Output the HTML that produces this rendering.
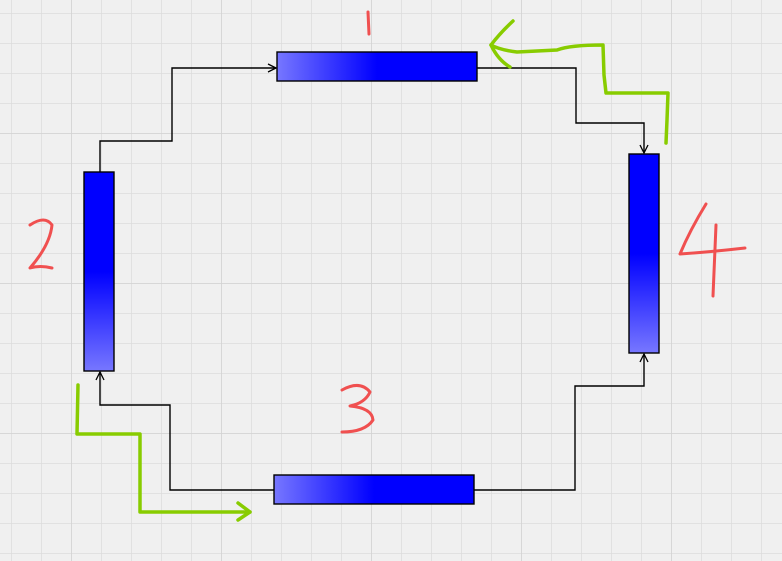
<!DOCTYPE html>
<html><head><meta charset="utf-8"><style>
html,body{margin:0;padding:0;background:#f0f0f0;}
svg{display:block;}
</style></head><body>
<svg width="782" height="561" xmlns="http://www.w3.org/2000/svg">
<defs>
<pattern id="g" x="11" y="13" width="30" height="30" patternUnits="userSpaceOnUse">
<path d="M0 0H30M0 0V30" stroke="#dcdcdc" stroke-width="1.5" fill="none"/>
</pattern>
<pattern id="G" x="71" y="133" width="150" height="150" patternUnits="userSpaceOnUse">
<path d="M0 0H150M0 0V150" stroke="#d2d2d2" stroke-width="1.5" fill="none"/>
</pattern>
<linearGradient id="h" x1="0" x2="1" y1="0" y2="0"><stop offset="0" stop-color="#7777ff"/><stop offset="0.5" stop-color="#0000ff"/><stop offset="1" stop-color="#0000ff"/></linearGradient>
<linearGradient id="v" x1="0" x2="0" y1="0" y2="1"><stop offset="0" stop-color="#0000ff"/><stop offset="0.5" stop-color="#0000ff"/><stop offset="1" stop-color="#7777ff"/></linearGradient>
<marker id="a" markerWidth="10" markerHeight="10" refX="9" refY="5" orient="auto" markerUnits="userSpaceOnUse"><path d="M1 1L9 5L1 9" fill="none" stroke="#000" stroke-width="1.3"/></marker>
</defs>
<rect width="782" height="561" fill="#f0f0f0"/>
<rect width="782" height="561" fill="url(#g)"/>
<rect width="782" height="561" fill="url(#G)"/>
<g fill="none" stroke="#000" stroke-width="1.4">
<path d="M100 172V141H172V68H276" marker-end="url(#a)"/>
<path d="M477 68H576V123H644V153" marker-end="url(#a)"/>
<path d="M474 490H575V386H644V354" marker-end="url(#a)"/>
<path d="M274 490H170V405H100V372" marker-end="url(#a)"/>
</g>
<g stroke="#000" stroke-width="1.4">
<rect x="277" y="52" width="200" height="29" fill="url(#h)"/>
<rect x="84" y="172" width="30" height="199" fill="url(#v)"/>
<rect x="629" y="154" width="30" height="199" fill="url(#v)"/>
<rect x="274" y="475" width="200" height="29" fill="url(#h)"/>
</g>
<g fill="none" stroke="#88cc00" stroke-width="3.5" stroke-linecap="round" stroke-linejoin="round">
<path d="M513 21Q500 33 491 45Q500 50 517 52L557 50Q570 45 603 45L604 75L606 93L668 93L667 120L666 143"/>
<path d="M491 45Q498 60 510 67"/>
<path d="M78 385L77 434L140 434L140 473L140 512L250 512"/>
<path d="M238 503L250 512L238 520"/>
</g>
<g fill="none" stroke="#f05050" stroke-width="3" stroke-linecap="round" stroke-linejoin="round">
<path d="M368 12L369 34"/>
<path d="M30 225Q45 215 52 225Q50 245 30 268Q40 265 52 268"/>
<path d="M342 390Q360 380 370 392Q365 403 350 406Q372 408 373 420Q365 432 342 432"/>
<path d="M706 204Q690 230 680 254Q710 252 745 248"/>
<path d="M716 225L713 296"/>
</g>
</svg>
</body></html>
